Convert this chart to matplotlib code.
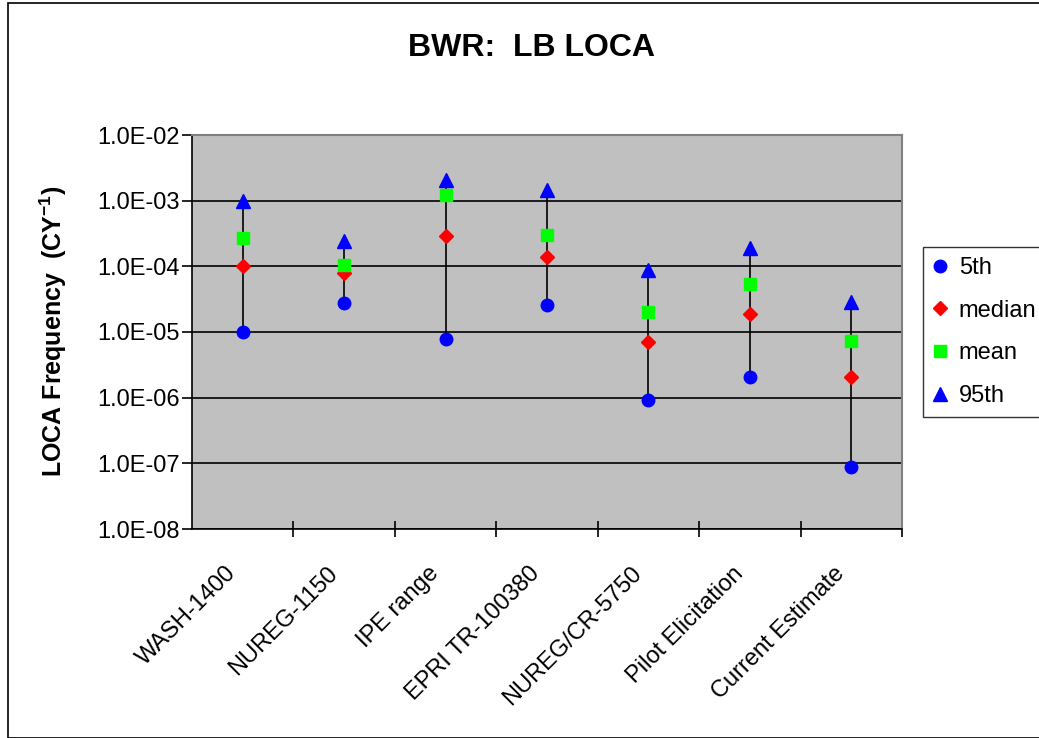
import matplotlib
matplotlib.use("Agg")
import matplotlib.pyplot as plt
from matplotlib.patches import Rectangle
from matplotlib.transforms import ScaledTranslation

categories = ["WASH-1400", "NUREG-1150", "IPE range", "EPRI TR-100380",
              "NUREG/CR-5750", "Pilot Elicitation", "Current Estimate"]
p5 = [1.0e-5, 2.8e-5, 7.9e-6, 2.6e-5, 9.1e-7, 2.1e-6, 8.9e-8]
median = [1.0e-4, 8.0e-5, 2.9e-4, 1.4e-4, 7.1e-6, 1.9e-5, 2.1e-6]
mean = [2.7e-4, 1.05e-4, 1.22e-3, 3.0e-4, 2.0e-5, 5.3e-5, 7.4e-6]
p95 = [1.0e-3, 2.4e-4, 2.1e-3, 1.46e-3, 8.9e-5, 1.93e-4, 2.9e-5]
ytick_vals = [1e-8, 1e-7, 1e-6, 1e-5, 1e-4, 1e-3, 1e-2]
ytick_labels = ["1.0E-08", "1.0E-07", "1.0E-06", "1.0E-05", "1.0E-04", "1.0E-03", "1.0E-02"]

plt.rcParams['font.family'] = ['Liberation Sans', 'DejaVu Sans']
plt.rcParams['mathtext.fontset'] = 'custom'
plt.rcParams['mathtext.rm'] = 'Liberation Sans'
plt.rcParams['mathtext.bf'] = 'Liberation Sans:bold'

W, H = 1039, 738
fig = plt.figure(figsize=(W / 100, H / 100), dpi=100)
fig.patches.append(Rectangle((8 / W, 0), 2, 1 - 3 / H, transform=fig.transFigure,
                             fill=False, edgecolor='black', linewidth=1.2))

ax = fig.add_axes([192 / W, 1 - 529 / H, (902 - 192) / W, (529 - 135) / H])
ax.set_facecolor('#C0C0C0')
ax.set_yscale('log')
ax.set_ylim(1e-8, 1e-2)
ax.set_xlim(-0.5, len(categories) - 0.5)

x = list(range(len(categories)))
ax.vlines(x, p5, p95, colors='black', linewidth=1.2, zorder=2)
ax.plot(x, p5, linestyle='none', marker='o', color='#0000FF', markersize=9, label='5th', zorder=3)
ax.plot(x, median, linestyle='none', marker='D', color='#FF0000', markersize=7.5, label='median', zorder=3)
ax.plot(x, mean, linestyle='none', marker='s', color='#00FF00', markersize=8, label='mean', zorder=3)
ax.plot(x, p95, linestyle='none', marker='^', color='#0000FF', markersize=10, label='95th', zorder=3)

ax.set_yticks(ytick_vals)
ax.set_yticklabels(ytick_labels, fontsize=17)
ax.yaxis.set_minor_locator(matplotlib.ticker.NullLocator())
ax.grid(axis='y', which='major', color='black', linewidth=1.2)
ax.set_axisbelow(True)

ax.set_xticks([i + 0.5 for i in range(len(categories))])
ax.set_xticklabels([])
ax.set_xticks(x, minor=True)
ax.set_xticklabels(categories, minor=True, rotation=45, ha='right',
                   rotation_mode='anchor', fontsize=17)
ax.tick_params(axis='x', which='minor', length=0, pad=24)
ax.tick_params(axis='x', which='major', length=12, width=1.2, direction='inout')
ax.tick_params(axis='y', which='major', length=7, width=1.2, direction='out', pad=2)
off = ScaledTranslation(-18 / 100, 0, fig.dpi_scale_trans)
for lab in ax.get_xticklabels(minor=True):
    lab.set_transform(lab.get_transform() + off)

for s in ['top', 'right']:
    ax.spines[s].set_color('#808080')
    ax.spines[s].set_linewidth(1.5)
for s in ['left', 'bottom']:
    ax.spines[s].set_color('black')
    ax.spines[s].set_linewidth(1.2)

fig.text(53 / W, 1 - 331 / H, 'LOCA Frequency  (CY$^{\\mathbf{-1}}$)', rotation=90,
         ha='center', va='center', fontsize=18, fontweight='bold')

fig.text(531 / W, 1 - 48 / H, 'BWR:  LB LOCA', ha='center', va='center',
         fontsize=23, fontweight='bold')

leg = fig.legend(loc='upper left', bbox_to_anchor=(923 / W, 1 - 247 / H),
                 frameon=True, fancybox=False, fontsize=17, handlelength=0.6,
                 handletextpad=0.5, labelspacing=0.88, borderpad=0.42,
                 borderaxespad=0)
leg.get_frame().set_edgecolor('black')
leg.get_frame().set_linewidth(1.0)

fig.savefig('out.png', dpi=100)
